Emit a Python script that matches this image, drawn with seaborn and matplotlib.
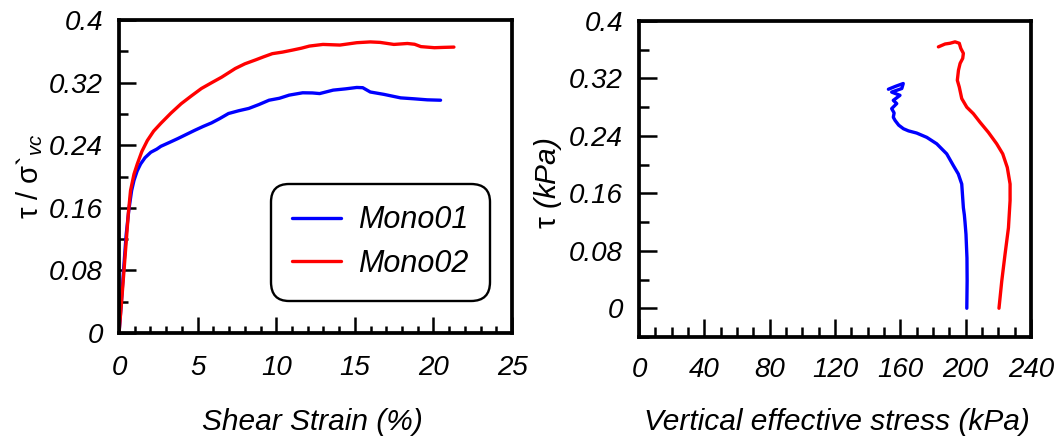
import numpy as np
import pandas as pd
import matplotlib
matplotlib.use('Agg')
import matplotlib.pyplot as plt
import seaborn as sns
from matplotlib.ticker import MultipleLocator, FixedLocator, FixedFormatter

# ---------------- data ----------------
series_names = ['Mono01', 'Mono02']
series_colors = ['#0000ff', '#ff0000']

strain01 = [0, 0.15, 0.3, 0.45, 0.62, 0.8, 0.95, 1.15, 1.37, 1.65, 2.02, 2.4, 2.66, 3.2,
            3.74, 4.3, 4.81, 5.35, 5.88, 6.4, 6.96, 7.6, 8.25, 8.9, 9.54, 10.2, 10.82,
            11.68, 12.3, 12.76, 13.62, 14.4, 15.12, 15.5, 15.98, 16.84, 17.91, 18.77,
            19.6, 20.45]
ratio01 = [0, 0.04, 0.084, 0.125, 0.157, 0.182, 0.195, 0.207, 0.216, 0.224, 0.231, 0.235,
           0.2386, 0.2435, 0.2485, 0.254, 0.259, 0.264, 0.2685, 0.274, 0.2805, 0.284,
           0.287, 0.292, 0.2975, 0.300, 0.304, 0.307, 0.3068, 0.306, 0.3104, 0.312,
           0.3138, 0.3135, 0.308, 0.305, 0.3005, 0.2993, 0.298, 0.2975]

strain02 = [0, 0.2, 0.41, 0.6, 0.73, 0.95, 1.16, 1.45, 1.8, 2.2, 2.66, 3.3, 3.95, 4.6,
            5.24, 5.9, 6.53, 7.0, 7.39, 8.0, 8.68, 9.2, 9.75, 10.4, 11.04, 11.6, 12.11,
            12.97, 14.05, 15.12, 15.98, 16.6, 17.48, 18.34, 18.8, 19.2, 20.06, 20.6, 21.3]
ratio02 = [0, 0.05, 0.105, 0.155, 0.182, 0.203, 0.216, 0.232, 0.246, 0.258, 0.268, 0.281,
           0.293, 0.303, 0.3125, 0.320, 0.327, 0.333, 0.338, 0.344, 0.349, 0.353, 0.357,
           0.359, 0.3616, 0.364, 0.3667, 0.3688, 0.368, 0.371, 0.372, 0.3714, 0.3688,
           0.370, 0.369, 0.366, 0.3646, 0.365, 0.3654]

stress01 = [200.7, 200.9, 200.8, 200.2, 199.6, 199.2, 198.6, 197.6, 195.5, 192.5, 188.4,
            182.3, 176.2, 170, 165, 161.9, 159, 156.8, 155.7, 156.2, 154.7, 157.8, 155.7,
            159.8, 154.7, 160.9, 161.8, 157, 152.7]
tau01 = [0, 0.038, 0.07, 0.103, 0.12, 0.13, 0.140, 0.173, 0.187, 0.1986, 0.215, 0.229,
         0.238, 0.244, 0.247, 0.25, 0.255, 0.2615, 0.266, 0.272, 0.278, 0.285, 0.2895,
         0.2965, 0.301, 0.306, 0.313, 0.309, 0.305]

stress02 = [220.4, 222.1, 224.1, 226.2, 227.2, 227.2, 225.5, 222.7, 219, 213.9, 208.8,
            204.7, 200.7, 197.6, 196.1, 194.9, 195.6, 196.6, 198.2, 198.6, 197, 196.1,
            193.5, 190.4, 187.4, 183.3]
tau02 = [0, 0.0378, 0.075, 0.112, 0.15, 0.173, 0.196, 0.215, 0.229, 0.245, 0.259, 0.271,
         0.280, 0.292, 0.308, 0.3175, 0.3315, 0.341, 0.348, 0.355, 0.362, 0.369, 0.371,
         0.369, 0.368, 0.364]

left_xticks = [0, 5, 10, 15, 20, 25]
left_xticklabels = ['0', '5', '10', '15', '20', '25']
right_xticks = [0, 40, 80, 120, 160, 200, 240]
right_xticklabels = ['0', '40', '80', '120', '160', '200', '240']
yticks = [0, 0.08, 0.16, 0.24, 0.32, 0.4]
yticklabels = ['0', '0.08', '0.16', '0.24', '0.32', '0.4']

# ---------------- style ----------------
sns.set_style('white')
plt.rcParams['font.family'] = ['Liberation Sans', 'DejaVu Sans']
plt.rcParams['font.style'] = 'italic'
plt.rcParams['text.color'] = 'black'
plt.rcParams['axes.labelcolor'] = 'black'
plt.rcParams['mathtext.fontset'] = 'custom'
plt.rcParams['mathtext.rm'] = 'Liberation Sans:italic'
plt.rcParams['mathtext.it'] = 'Liberation Sans:italic'
plt.rcParams['mathtext.default'] = 'it'

fig = plt.figure(figsize=(10.62, 4.36), dpi=100)
ax1 = fig.add_axes([0.1121, 0.2362, 0.3701, 0.7179])
ax2 = fig.add_axes([0.6017, 0.2271, 0.3691, 0.7247])

palette = dict(zip(series_names, series_colors))

df1 = pd.concat([
    pd.DataFrame({'strain': strain01, 'ratio': ratio01, 'test': series_names[0]}),
    pd.DataFrame({'strain': strain02, 'ratio': ratio02, 'test': series_names[1]}),
], ignore_index=True)
df2 = pd.concat([
    pd.DataFrame({'stress': stress01, 'tau': tau01, 'test': series_names[0]}),
    pd.DataFrame({'stress': stress02, 'tau': tau02, 'test': series_names[1]}),
], ignore_index=True)

sns.lineplot(data=df1, x='strain', y='ratio', hue='test', palette=palette,
             sort=False, estimator=None, lw=2.4, ax=ax1)
sns.lineplot(data=df2, x='stress', y='tau', hue='test', palette=palette,
             sort=False, estimator=None, lw=2.4, ax=ax2, legend=False)

# axes limits & ticks
ax1.set_xlim(0, 25)
ax1.set_ylim(0, 0.4)
ax2.set_xlim(0, 240)
ax2.set_ylim(-0.04, 0.4)

ax1.xaxis.set_major_locator(FixedLocator(left_xticks))
ax1.xaxis.set_major_formatter(FixedFormatter(left_xticklabels))
ax1.xaxis.set_minor_locator(MultipleLocator(1))
ax2.xaxis.set_major_locator(FixedLocator(right_xticks))
ax2.xaxis.set_major_formatter(FixedFormatter(right_xticklabels))
ax2.xaxis.set_minor_locator(MultipleLocator(10))
for ax in (ax1, ax2):
    ax.yaxis.set_major_locator(FixedLocator(yticks))
    ax.yaxis.set_major_formatter(FixedFormatter(yticklabels))
    ax.yaxis.set_minor_locator(MultipleLocator(0.04))
    for sp in ax.spines.values():
        sp.set_visible(True)
        sp.set_color('black')
        sp.set_linewidth(2.7)
    ax.tick_params(which='both', direction='in', left=True, bottom=True,
                   top=False, right=False, width=1.8, color='black',
                   labelsize=20, labelcolor='black')
    ax.tick_params(axis='y', pad=11.5)

ax1.tick_params(axis='y', which='major', length=12)
ax1.tick_params(axis='y', which='minor', length=6.8)
ax1.tick_params(axis='x', which='major', length=11.5, pad=16)
ax1.tick_params(axis='x', which='minor', length=5.3)
ax2.tick_params(which='major', length=12.7)
ax2.tick_params(which='minor', length=7.2)
ax2.tick_params(axis='x', pad=14.5)

# labels
ax1.set_xlabel('Shear Strain (%)', fontsize=21.5, fontstyle='italic')
ax2.set_xlabel('Vertical effective stress (kPa)', fontsize=21.5, fontstyle='italic')
ax1.set_ylabel('τ / σ`$_{vc}$', fontsize=21, fontstyle='normal')
ax2.set_ylabel(r'τ $(kPa)$', fontsize=21.5, fontstyle='normal')
for ax in (ax1, ax2):
    ax.xaxis.label.set_va('center')
    ax.yaxis.label.set_va('center')
ax1.xaxis.set_label_coords(0.491, -0.284)
ax2.xaxis.set_label_coords(0.505, -0.268)
ax1.yaxis.set_label_coords(-0.2265, 0.5)
ax2.yaxis.set_label_coords(-0.232, 0.487)

# legend
handles, labels = ax1.get_legend_handles_labels()
leg = ax1.legend(handles, labels, loc='upper left', bbox_to_anchor=(0.386, 0.476),
                 borderaxespad=0, frameon=True, fancybox=True, framealpha=1,
                 edgecolor='black', prop=dict(style='italic', size=22),
                 handlelength=1.6, handletextpad=0.55, borderpad=0.7,
                 labelspacing=0.45)
frame = leg.get_frame()
frame.set_linewidth(1.7)
frame.set_boxstyle('round', pad=0, rounding_size=0.6)
for line in leg.get_lines():
    line.set_linewidth(2.4)

fig.savefig('out.png', dpi=100)
